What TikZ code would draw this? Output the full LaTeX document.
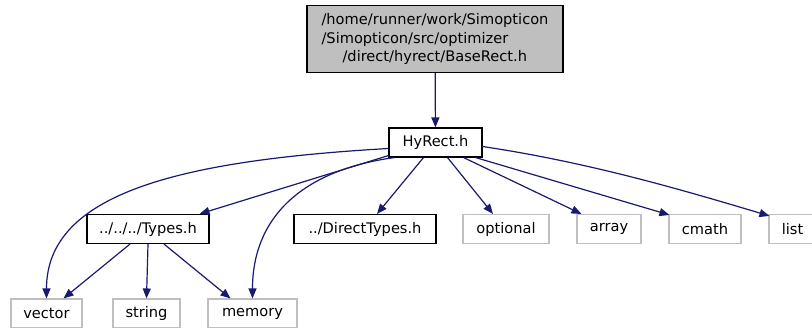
\documentclass[tikz,border=0pt]{standalone}
\usepackage{fontspec}
\setmainfont{DejaVu Sans}
\usepackage{tikz}
\usetikzlibrary{arrows.meta, positioning, calc}
\usepackage{xcolor}
\definecolor{edgecol}{RGB}{25,25,112}
\definecolor{basefill}{RGB}{191,191,191}
\definecolor{sysline}{RGB}{191,191,191}

\begin{document}
\begin{tikzpicture}[
  x=1pt, y=-1pt,
  >={Triangle[length=10pt, width=8pt]},
  filebox/.style={
    draw=black, fill=white, line width=1.1pt, inner sep=0pt,
    minimum height=29pt, align=center, font=\fontsize{14.6}{18.5}\selectfont
  },
  sysbox/.style={
    filebox, draw=sysline
  },
  basebox/.style={
    filebox, fill=basefill, minimum height=67pt, align=left
  },
  dep/.style={->, line width=1.2pt, color=edgecol},
]
\useasboundingbox (0,0) rectangle (812,327);

% --- top file ---
\node[basebox, minimum width=256pt] (base) at (435,39)
  {/home/runner/work/Simopticon\\/Simopticon/src/optimizer\\\hspace*{21pt}/direct/hyrect/BaseRect.h};

% --- first level ---
\node[filebox, minimum width=93pt] (hyrect) at (435.5,142.5) {HyRect.h};

% --- second level ---
\node[filebox, minimum width=122pt] (types) at (148,229) {../../../Types.h};
\node[filebox, minimum width=142pt] (directtypes) at (365,229) {../DirectTypes.h};
\node[sysbox, minimum width=86pt] (optional) at (506,229) {optional};
\node[sysbox, minimum width=64pt] (array) at (609,229) {array};
\node[sysbox, minimum width=72pt] (cmath) at (705,229) {cmath};
\node[sysbox, minimum width=47pt] (list) at (792.5,229) {list};

% --- third level ---
\node[sysbox, minimum width=71pt] (vector) at (46.5,313.5) {vector};
\node[sysbox, minimum width=67pt] (string) at (146.5,313.5) {string};
\node[sysbox, minimum width=89pt] (memory) at (252.5,313.5) {memory};

% --- includes ---
\draw[dep] (base) -- (hyrect);

\draw[dep] ([yshift=-6pt]hyrect.west)
  .. controls +(-209,12) and +(0,-105) .. (vector.north);
\draw[dep] ([xshift=6pt]hyrect.south west)
  .. controls +(-95,13) and +(0,-79) .. (memory.north);
\draw[dep] ([yshift=2pt]hyrect.south west) -- ([xshift=-10pt]types.north east);
\draw[dep] ([xshift=-12pt]hyrect.south) -- ([xshift=12pt]directtypes.north);
\draw[dep] ([xshift=12pt]hyrect.south) -- ([xshift=-13pt]optional.north);
\draw[dep] ([xshift=-19pt]hyrect.south east) -- ([xshift=5pt]array.north west);
\draw[dep] ([xshift=-7pt]hyrect.south east) -- ([xshift=1pt,yshift=-1pt]cmath.north west);
\draw[dep] ([yshift=-4pt]hyrect.east)
  .. controls +(100,15) and +(-100,-30) .. ([xshift=1pt,yshift=-2pt]list.north west);

\draw[dep] ([xshift=-18pt]types.south) -- ([xshift=17pt]vector.north);
\draw[dep] (types.south) -- (string.north);
\draw[dep] ([xshift=16pt]types.south) -- ([xshift=-22pt]memory.north);

\end{tikzpicture}
\end{document}
